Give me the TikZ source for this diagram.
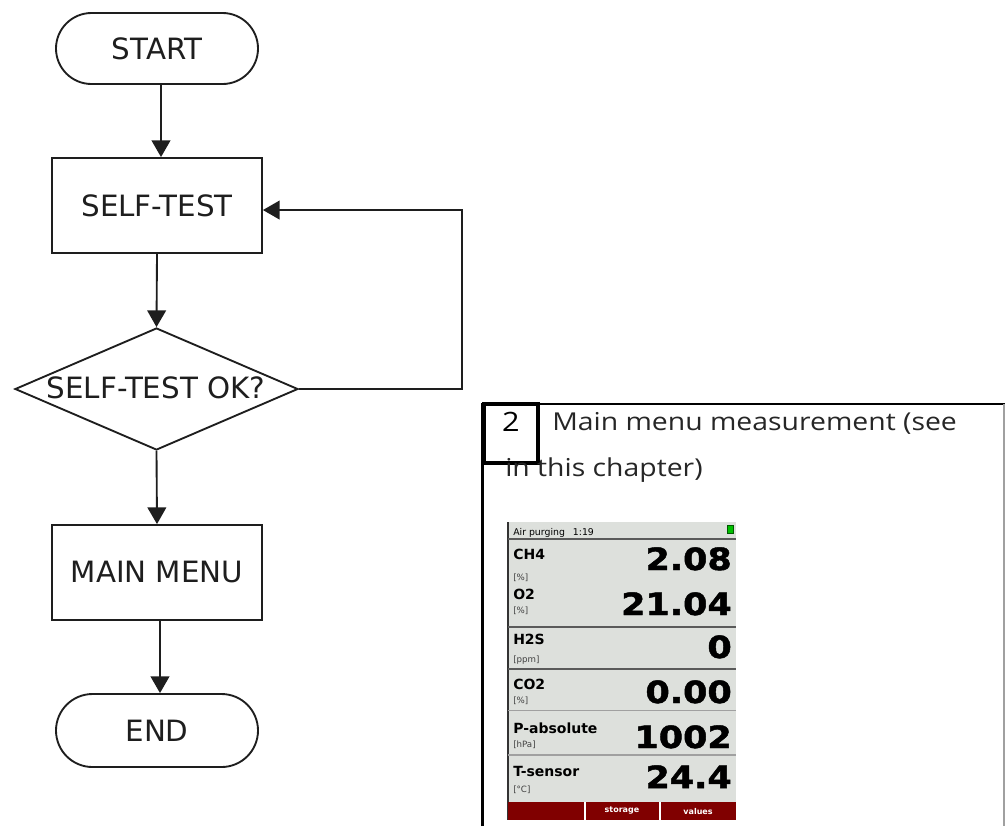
\documentclass[tikz,border=0pt]{standalone}
\usepackage{fontspec}
\setmainfont{DejaVu Sans}
\newfontfamily\flowfont{DejaVu Sans}
\newfontfamily\panelfont{Open Sans}[FakeStretch=1.15]
\newfontfamily\lcdnumfont{DejaVu Sans}[FakeStretch=1.14,FakeBold=1.5]
\newfontfamily\lcdlabfont{DejaVu Sans}
\usetikzlibrary{shapes.geometric,shapes.misc,arrows.meta}
\definecolor{ink}{RGB}{30,30,30}
\definecolor{lcdbg}{RGB}{221,224,220}
\definecolor{lcdred}{RGB}{128,0,0}
\definecolor{lcdline}{RGB}{90,90,90}
\definecolor{lcdfaint}{RGB}{160,160,160}
\begin{document}
\begin{tikzpicture}[x=0.75pt,y=-0.75pt,
  flowtext/.style={font=\flowfont\fontsize{22}{26}\selectfont,text=ink},
  flowline/.style={draw=ink,line width=1.4pt},
  term/.style={flowline,flowtext,rounded rectangle,minimum width=151.5pt,inner sep=0pt},
  procbox/.style={flowline,flowtext,rectangle,minimum width=157.5pt,minimum height=71.25pt,inner sep=0pt},
  arr/.style={draw=ink,line width=1.4pt,-{Triangle[length=12.5pt,width=14pt]}},
  captext/.style={inner sep=0pt,font=\panelfont\fontsize{18.5}{22}\selectfont,text=black!85},
  lcdlab/.style={anchor=base west,inner sep=0pt,font=\lcdlabfont\bfseries\fontsize{10.5}{10}\selectfont},
  lcdunit/.style={anchor=base west,inner sep=0pt,font=\lcdlabfont\fontsize{6.5}{6}\selectfont,text=black!75},
  lcdnum/.style={anchor=base east,inner sep=0pt,font=\lcdnumfont\bfseries\fontsize{23}{23}\selectfont},
  barlab/.style={inner sep=0pt,text=white,font=\lcdlabfont\bfseries\fontsize{6}{6}\selectfont}]
\path[use as bounding box] (0,0) rectangle (1005,826);

% ---------------- flowchart ----------------
\node[term,minimum height=53.25pt] (start) at (157,48.5) {START};
\node[procbox] (self) at (157,205.5) {SELF-TEST};
\node[flowline,diamond,minimum width=212.25pt,minimum height=91.5pt,inner sep=0pt] (dia) at (156.5,389) {};
\node[flowtext,inner sep=0pt] (diat) at (156,388) {SELF-TEST OK?};
\node[procbox] (menu) at (157,572.5) {MAIN MENU};
\node[term,minimum height=54.75pt] (end) at (157,730.5) {END};
\coordinate (loop) at (462,210);

\draw[arr] ([xshift=3pt]start.south) -- ([xshift=3pt]self.north);
\draw[arr] (self.south) -- (dia.north);
\draw[arr] (dia.south) -- (menu.north);
\draw[arr] ([xshift=2.25pt]menu.south) -- ([xshift=2.25pt]end.north);
\draw[arr] (dia.east) -| (loop) -- ([yshift=-3.4pt]self.east);

% ---------------- panel ----------------
\draw[line width=2.2pt] (482.5,826) -- (482.5,404) -- (1005,404);
\draw[lcdfaint,line width=0.8pt] (1004,404) -- (1004,826);
\node[draw,line width=2.4pt,minimum width=40.5pt,minimum height=44.25pt,inner sep=0pt] (numbox) at (511,433.5) {};
\node[captext,anchor=base,text=black,font=\panelfont\fontsize{20}{22}\selectfont] (num) at (511,431) {2};
\node[captext,anchor=base west] (cap1) at (552,430) {Main menu measurement (see};
\node[captext,anchor=base west] (cap2) at (505,476) {in this chapter)};

% ---------------- LCD screenshot ----------------
\fill[lcdbg] (508,522) rectangle (736,802);
\draw[black!80,line width=1.1pt] (508,522) -- (508,820);
\node[anchor=base west,inner sep=0pt,font=\lcdlabfont\fontsize{7}{7}\selectfont] (hdr) at (513,535) {Air purging\hspace{6pt}1:19};
\filldraw[fill=green!75!black,draw=green!35!black,line width=0.4pt] (727,525) rectangle (733,533);
\draw[lcdline,line width=1pt] (508,539) -- (736,539);
\draw[lcdline,line width=1pt] (508,627) -- (736,627);
\draw[lcdline,line width=1pt] (508,669) -- (736,669);
\draw[lcdfaint,line width=0.6pt] (508,710) -- (736,710);
\draw[lcdfaint,line width=0.8pt] (508,755) -- (736,755);

\node[lcdlab] (l1) at (513,559) {CH4};
\node[lcdunit] (u1) at (513,580) {[\%]};
\node[lcdnum] (n1) at (732,570) {2.08};
\node[lcdlab] (l2) at (513,599) {O2};
\node[lcdunit] (u2) at (513,613) {[\%]};
\node[lcdnum] (n2) at (732,615) {21.04};
\node[lcdlab] (l3) at (513,644) {H2S};
\node[lcdunit] (u3) at (513,662) {[ppm]};
\node[lcdnum] (n3) at (732,658) {0};
\node[lcdlab] (l4) at (513,689) {CO2};
\node[lcdunit] (u4) at (513,703) {[\%]};
\node[lcdnum] (n4) at (732,703) {0.00};
\node[lcdlab] (l5) at (513,733) {P-absolute};
\node[lcdunit] (u5) at (513,747) {[hPa]};
\node[lcdnum] (n5) at (732,748) {1002};
\node[lcdlab] (l6) at (513,776) {T-sensor};
\node[lcdunit] (u6) at (513,792) {[°C]};
\node[lcdnum] (n6) at (732,788) {24.4};

\fill[lcdred] (508,802) rectangle (736,820);
\draw[white,line width=0.8pt] (585,802) -- (585,820);
\draw[white,line width=0.8pt] (660,802) -- (660,820);
\node[barlab] (b1) at (622,811) {storage};
\node[barlab] (b2) at (698,811) {values};
\end{tikzpicture}
\end{document}
